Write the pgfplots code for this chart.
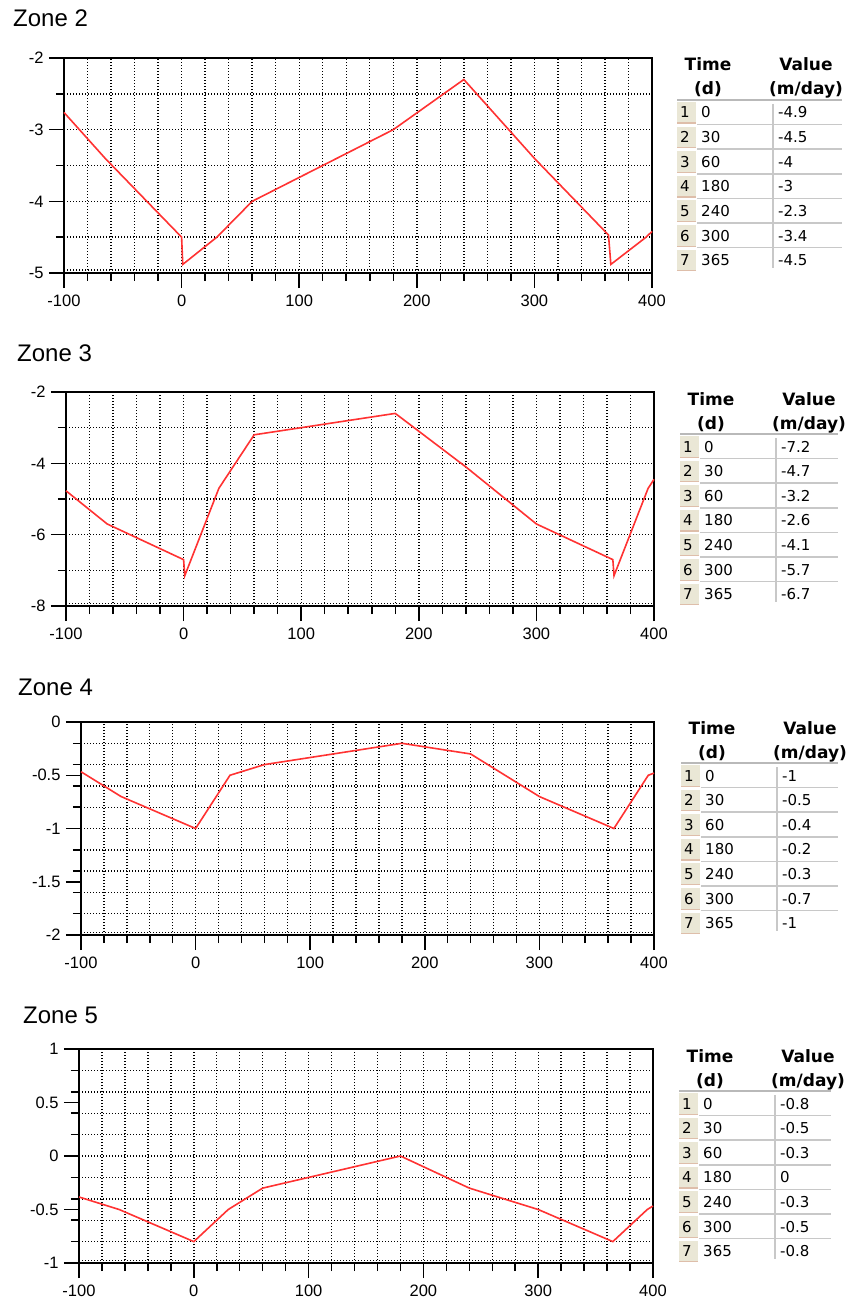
\documentclass[border=0pt]{standalone}
\usepackage{fontspec}
\setmainfont{Liberation Sans}
\newfontfamily\tabfont{DejaVu Sans}
\usepackage{pgfplots}
\pgfplotsset{compat=1.18}

\definecolor{zred}{RGB}{255,50,50}
\definecolor{cellbg}{RGB}{234,231,214}
\definecolor{celline}{RGB}{222,190,170}
\definecolor{sepgray}{RGB}{200,200,200}
\definecolor{topgray}{RGB}{185,185,185}

\pgfplotsset{
  zone/.style={
    scale only axis, anchor=north west,
    xmin=-100, xmax=400,
    xtick={-100,0,...,400},
    minor xtick={-80,-60,...,380},
    tick pos=left,
    tick align=outside,
    major tick length=15pt, minor tick length=8pt,
    every tick/.style={black, line width=1.5pt},
    axis line style={black, line width=1.8pt},
    xmajorgrids=false, ymajorgrids=false,
    xminorgrids=true, yminorgrids=true,
    minor grid style={black, line width=1.4pt, dash pattern=on 1.4pt off 1.6pt},
    ticklabel style={font=\fontsize{16.5}{19}\selectfont},
    xticklabel style={yshift=-3pt},
    yticklabel style={xshift=-2pt},
    /pgf/number format/assume math mode=true,
    clip=false,
  },
  zline/.style={zred, line width=1.6pt, mark=none},
}

\newcommand{\botdots}{%
  \draw[black, line width=1.4pt, dash pattern=on 1.4pt off 1.6pt]
    ([yshift=2.8pt]rel axis cs:0,0) -- ([yshift=2.8pt]rel axis cs:1,0);}

% #1 left, #2 top line y (px from top), #3 right, #4 list time/value
\newcommand{\ztable}[4]{%
  \begin{scope}[shift={(#1pt,-#2pt)}]
    \node[anchor=base, font=\tabfont\bfseries\fontsize{17}{20}\selectfont, inner sep=0pt] at (31pt,29pt) {Time};
    \node[anchor=base, font=\tabfont\bfseries\fontsize{17}{20}\selectfont, inner sep=0pt] at (31pt,5pt) {(d)};
    \node[anchor=base, font=\tabfont\bfseries\fontsize{17}{20}\selectfont, inner sep=0pt] at (129pt,29pt) {Value};
    \node[anchor=base, font=\tabfont\bfseries\fontsize{17}{20}\selectfont, inner sep=0pt] at (129pt,5pt) {(m/day)};
    \draw[topgray, line width=2.6pt] (0pt,0pt) -- (#3pt-#1pt,0pt);
    \draw[sepgray, line width=1.5pt] (96pt,-4pt) -- (96pt,-168pt);
    \foreach \t/\v [count=\i] in {#4} {
      \pgfmathsetmacro\yb{-18-24.6*(\i-1)}
      \pgfmathsetmacro\ytp{-24.6*(\i-1)-2}
      \pgfmathsetmacro\ybt{-24.6*\i+1.5}
      \pgfmathsetmacro\ysp{-24.6*\i}
      \fill[cellbg] (0pt,\ytp pt) rectangle (19pt,\ybt pt);
      \draw[celline, line width=1.2pt] (0pt,\ybt pt) -- (19pt,\ybt pt);
      \ifnum\i<7
        \draw[sepgray, line width=1.5pt] (20pt,\ysp pt) -- (#3pt-#1pt,\ysp pt);
      \fi
      \node[anchor=base, font=\tabfont\fontsize{15}{18}\selectfont, inner sep=0pt] at (8pt,\yb pt) {\i};
      \node[anchor=base west, font=\tabfont\fontsize{15}{18}\selectfont, inner sep=0pt] at (24pt,\yb pt) {\t};
      \node[anchor=base west, font=\tabfont\fontsize{15}{18}\selectfont, inner sep=0pt] at (101pt,\yb pt) {\v};
    }
  \end{scope}}

\begin{document}
\begin{tikzpicture}
\path[use as bounding box, fill=white] (0pt,0pt) rectangle (858pt,-1300pt);

% ---------------- Zone 2 ----------------
\node[anchor=base west, font=\fontsize{24}{28}\selectfont, inner sep=0pt] at (13pt,-27pt) {Zone 2};
\begin{axis}[zone, at={(64pt,-58pt)}, width=588pt, height=215pt,
  ymin=-5, ymax=-2, ytick={-5,-4,-3,-2},
  minor ytick={-4.5,-4,-3.5,-3,-2.5}]
\addplot[zline] coordinates {(-100,-2.76) (-65,-3.4) (0,-4.5) (1,-4.88) (30,-4.5) (60,-4) (180,-3) (240,-2.3) (300,-3.4) (363,-4.47) (365,-4.88) (395,-4.5) (400,-4.42)};
\botdots
\end{axis}
\ztable{677}{100}{842}{0/-4.9,30/-4.5,60/-4,180/-3,240/-2.3,300/-3.4,365/-4.5}

% ---------------- Zone 3 ----------------
\node[anchor=base west, font=\fontsize{24}{28}\selectfont, inner sep=0pt] at (17pt,-361pt) {Zone 3};
\begin{axis}[zone, at={(66pt,-392pt)}, width=588pt, height=214pt,
  ymin=-8, ymax=-2, ytick={-8,-6,-4,-2},
  minor ytick={-7,-6,-5,-4,-3}]
\addplot[zline] coordinates {(-100,-4.77) (-65,-5.7) (0,-6.7) (1,-7.15) (30,-4.7) (60,-3.2) (180,-2.6) (240,-4.1) (300,-5.7) (365,-6.7) (366,-7.15) (395,-4.7) (400,-4.45)};
\botdots
\end{axis}
\ztable{680}{434}{838}{0/-7.2,30/-4.7,60/-3.2,180/-2.6,240/-4.1,300/-5.7,365/-6.7}

% ---------------- Zone 4 ----------------
\node[anchor=base west, font=\fontsize{24}{28}\selectfont, inner sep=0pt] at (18pt,-695pt) {Zone 4};
\begin{axis}[zone, at={(81pt,-722pt)}, width=573pt, height=213pt,
  ymin=-2, ymax=0, ytick={-2,-1.5,-1,-0.5,0},
  minor ytick={-1.8,-1.6,-1.4,-1.2,-1,-0.8,-0.6,-0.4,-0.2}]
\addplot[zline] coordinates {(-100,-0.467) (-65,-0.7) (0,-1) (30,-0.5) (60,-0.4) (180,-0.2) (240,-0.3) (300,-0.7) (365,-1) (395,-0.5) (400,-0.48)};
\botdots
\end{axis}
\ztable{681}{763}{838}{0/-1,30/-0.5,60/-0.4,180/-0.2,240/-0.3,300/-0.7,365/-1}

% ---------------- Zone 5 ----------------
\node[anchor=base west, font=\fontsize{24}{28}\selectfont, inner sep=0pt] at (23pt,-1023pt) {Zone 5};
\begin{axis}[zone, at={(79pt,-1049pt)}, width=574pt, height=214pt,
  ymin=-1, ymax=1, ytick={-1,-0.5,0,0.5,1},
  minor ytick={-0.8,-0.6,-0.4,-0.2,0,0.2,0.4,0.6,0.8}]
\addplot[zline] coordinates {(-100,-0.383) (-65,-0.5) (0,-0.8) (30,-0.5) (60,-0.3) (180,0) (240,-0.3) (300,-0.5) (365,-0.8) (395,-0.5) (400,-0.467)};
\botdots
\end{axis}
\ztable{679}{1091}{831}{0/-0.8,30/-0.5,60/-0.3,180/0,240/-0.3,300/-0.5,365/-0.8}

\end{tikzpicture}
\end{document}
